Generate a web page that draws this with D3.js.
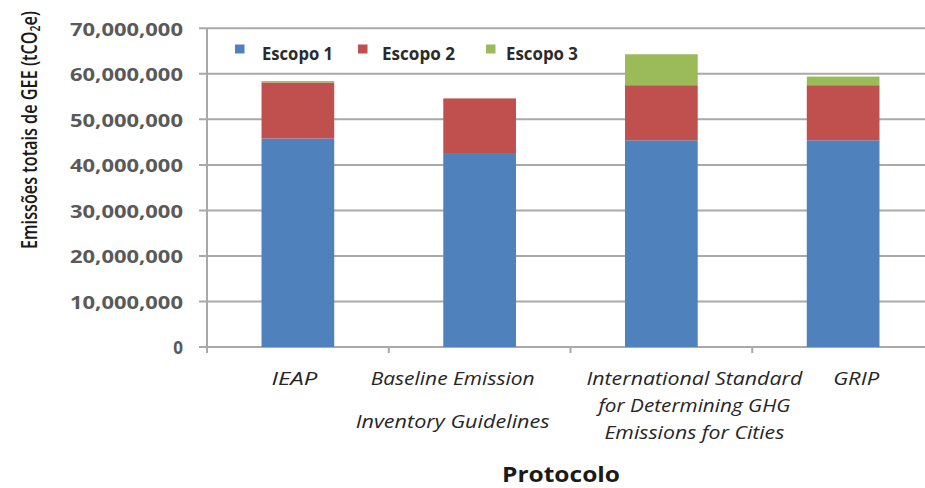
<!DOCTYPE html>
<html>
<head>
<meta charset="utf-8">
<script src="https://cdn.jsdelivr.net/npm/d3@7"></script>
<style>
  html, body { margin: 0; padding: 0; background: #fff; }
  svg { display: block; font-family: "Open Sans", "Noto Sans", sans-serif; }
</style>
</head>
<body>
<svg id="chart" width="925" height="488"></svg>
<script>
// Protocols compared (x categories), each label split into its printed lines
const categories = ["IEAP", "Baseline Emission Inventory Guidelines",
  "International Standard for Determining GHG Emissions for Cities", "GRIP"];
const categoryLines = [
  ["IEAP"],
  ["Baseline Emission", "Inventory Guidelines"],
  ["International Standard", "for Determining GHG", "Emissions for Cities"],
  ["GRIP"]
];

// Total GHG emissions per scope (tCO2e)
const escopo1 = [45800000, 42600000, 45400000, 45400000];
const escopo2 = [12300000, 12000000, 12100000, 12100000];
const escopo3 = [300000, 0, 6800000, 1900000];

const seriesNames = ["Escopo 1", "Escopo 2", "Escopo 3"];
const yTicks = [0, 10000000, 20000000, 30000000, 40000000, 50000000, 60000000, 70000000];

const colors = ["#4f81bd", "#c0504d", "#9bbb59"];

const svg = d3.select("#chart");

// plot frame (right side runs past the page edge)
const plotLeft = 207, plotRight = 934, plotTop = 28.3, plotBottom = 347;

const x = d3.scaleBand().domain(categories).range([plotLeft, plotRight])
  .paddingInner(0.6).paddingOuter(0.3);
const y = d3.scaleLinear().domain([0, 70000000]).range([plotBottom, plotTop]);

const fmt = d3.format(",");

// horizontal gridlines with short outside ticks
const gridColor = "#a9a9a9";
svg.append("g").selectAll("line").data(yTicks).join("line")
  .attr("x1", plotLeft - 8).attr("x2", 925)
  .attr("y1", d => y(d)).attr("y2", d => y(d))
  .attr("stroke", gridColor).attr("stroke-width", 2);

// y-axis line
svg.append("line")
  .attr("x1", plotLeft).attr("x2", plotLeft).attr("y1", plotTop).attr("y2", plotBottom + 6)
  .attr("stroke", gridColor).attr("stroke-width", 2);

// category boundary ticks on the x axis
const boundaries = d3.range(1, categories.length).map(i => plotLeft + i * x.step());
svg.append("g").selectAll("line").data(boundaries).join("line")
  .attr("x1", d => d).attr("x2", d => d)
  .attr("y1", plotBottom).attr("y2", plotBottom + 6)
  .attr("stroke", gridColor).attr("stroke-width", 2);

// y tick labels
svg.append("g").selectAll("text").data(yTicks).join("text")
  .attr("x", 183).attr("y", d => y(d) + 7.2)
  .attr("text-anchor", "end")
  .attr("font-size", 17).attr("font-weight", 700).attr("fill", "#595959")
  .text(d => fmt(d))
  .each(function (d) {
    if (d > 0) d3.select(this).attr("textLength", 113).attr("lengthAdjust", "spacingAndGlyphs");
  });

// stacked bars
const rows = categories.map((c, i) => ({ cat: c, s0: escopo1[i], s1: escopo2[i], s2: escopo3[i] }));
const stack = d3.stack().keys(["s0", "s1", "s2"])(rows);

svg.append("g").selectAll("g").data(stack).join("g")
  .attr("fill", (d, i) => colors[i])
  .selectAll("rect").data(d => d).join("rect")
  .attr("x", d => x(d.data.cat))
  .attr("width", x.bandwidth())
  .attr("y", d => y(d[1]))
  .attr("height", d => y(d[0]) - y(d[1]));

// x category labels (italic, wrapped)
const labelShift = [-3.5, -27, 33, 13];
const lineBaselines = [[385], [385, 428], [385, 411.7, 439], [385]];
const lineLengths = [[46], [164, 194], [216, 192, 180], [46]];
const xl = svg.append("g");
categoryLines.forEach((lines, i) => {
  const cx = x(categories[i]) + x.bandwidth() / 2 + labelShift[i];
  lines.forEach((ln, j) => {
    xl.append("text")
      .attr("x", cx).attr("y", lineBaselines[i][j])
      .attr("text-anchor", "middle")
      .attr("font-size", 18).attr("font-style", "italic").attr("fill", "#262626")
      .attr("textLength", lineLengths[i][j]).attr("lengthAdjust", "spacingAndGlyphs")
      .text(ln);
  });
});

// legend
const legendX = [235, 358, 486];
const legendTextX = [262, 382, 506];
const legendLen = [71, 73, 72];
const lg = svg.append("g");
seriesNames.forEach((name, i) => {
  lg.append("rect").attr("x", legendX[i]).attr("y", 44.5)
    .attr("width", 9.5).attr("height", 9).attr("fill", colors[i]);
  lg.append("text").attr("x", legendTextX[i]).attr("y", 60)
    .attr("font-size", 17).attr("font-weight", 700).attr("fill", "#2b2b2b")
    .attr("textLength", legendLen[i]).attr("lengthAdjust", "spacingAndGlyphs")
    .text(name);
});

// y-axis title: rotated, then squeezed horizontally to its printed length
const yTitleG = svg.append("g").attr("transform", "translate(36.5,130) rotate(-90)");
const yTitle = yTitleG.append("text")
  .attr("text-anchor", "middle")
  .attr("font-size", 22).attr("font-weight", 600).attr("fill", "#1a1a1a");
yTitle.append("tspan").text("Emissões totais de GEE (tCO");
yTitle.append("tspan").attr("font-size", 14).attr("dy", 3).text("2");
yTitle.append("tspan").attr("dy", -3).text("e)");
const naturalW = yTitle.node().getComputedTextLength();
yTitle.attr("transform", `scale(${238 / naturalW},1)`);

svg.append("text")
  .attr("x", 561).attr("y", 482)
  .attr("text-anchor", "middle")
  .attr("font-size", 21).attr("font-weight", 700).attr("fill", "#1a1a1a")
  .attr("textLength", 118).attr("lengthAdjust", "spacingAndGlyphs")
  .text("Protocolo");
</script>
</body>
</html>
